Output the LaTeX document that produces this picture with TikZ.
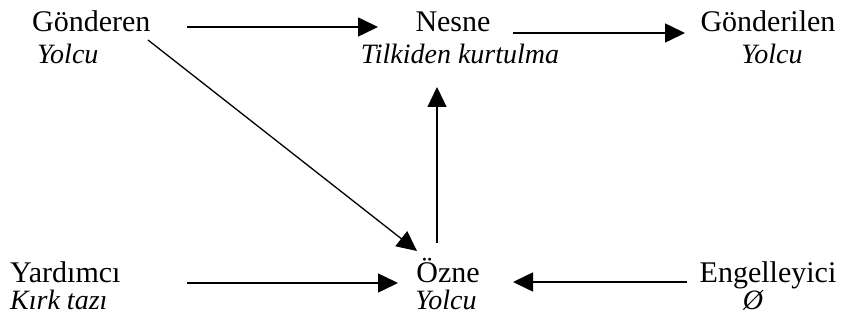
\documentclass[tikz,border=0pt]{standalone}
\usepackage{fontspec}
\setmainfont{Liberation Serif}
\usetikzlibrary{arrows.meta}
\begin{document}
\begin{tikzpicture}[x=1pt,y=-1pt,
  role/.style={inner sep=0pt,font=\fontsize{30}{36}\selectfont},
  filler/.style={inner sep=0pt,font=\fontsize{28}{34}\selectfont\itshape},
  arr/.style={line width=1.6pt,-{Triangle[length=20pt,width=19pt]}}]
\useasboundingbox (0,0) rectangle (844,326);
% top row
\node[role,anchor=base west] (gonderen) at (32,32) {Gönderen};
\node[filler,anchor=base west] (gonderenf) at (37,64) {Yolcu};
\node[role,anchor=base] (nesne) at (453,32) {Nesne};
\node[filler,anchor=base] (nesnef) at (460,64) {Tilkiden kurtulma};
\node[role,anchor=base] (gonderilen) at (768,32) {Gönderilen};
\node[filler,anchor=base] (gonderilenf) at (772,64) {Yolcu};
% bottom row
\node[role,anchor=base west] (yardimci) at (10,282) {Yardımcı};
\node[filler,anchor=base west] (yardimcif) at (10,309) {Kırk tazı};
\node[role,anchor=base] (ozne) at (448,282) {Özne};
\node[filler,anchor=base] (oznef) at (446,309) {Yolcu};
\node[role,anchor=base] (engelleyici) at (768,282) {Engelleyici};
\node[filler,anchor=base] (engelleyicif) at (753,309) {Ø};
% connector end points
\coordinate (a1s) at (187,27);  \coordinate (a1e) at (378,27);
\coordinate (a2s) at (513,33);  \coordinate (a2e) at (685,33);
\coordinate (a3s) at (148,40);  \coordinate (a3e) at (417,251);
\coordinate (a4s) at (437,243); \coordinate (a4e) at (437,87);
\coordinate (a5s) at (187,283); \coordinate (a5e) at (398,283);
\coordinate (a6s) at (687,282); \coordinate (a6e) at (513,282);
\draw[arr] (a1s) -- (a1e);
\draw[arr] (a2s) -- (a2e);
\draw[arr,line width=1.3pt] (a3s) -- (a3e);
\draw[arr,line width=1.3pt] (a4s) -- (a4e);
\draw[arr] (a5s) -- (a5e);
\draw[arr] (a6s) -- (a6e);
\end{tikzpicture}
\end{document}
